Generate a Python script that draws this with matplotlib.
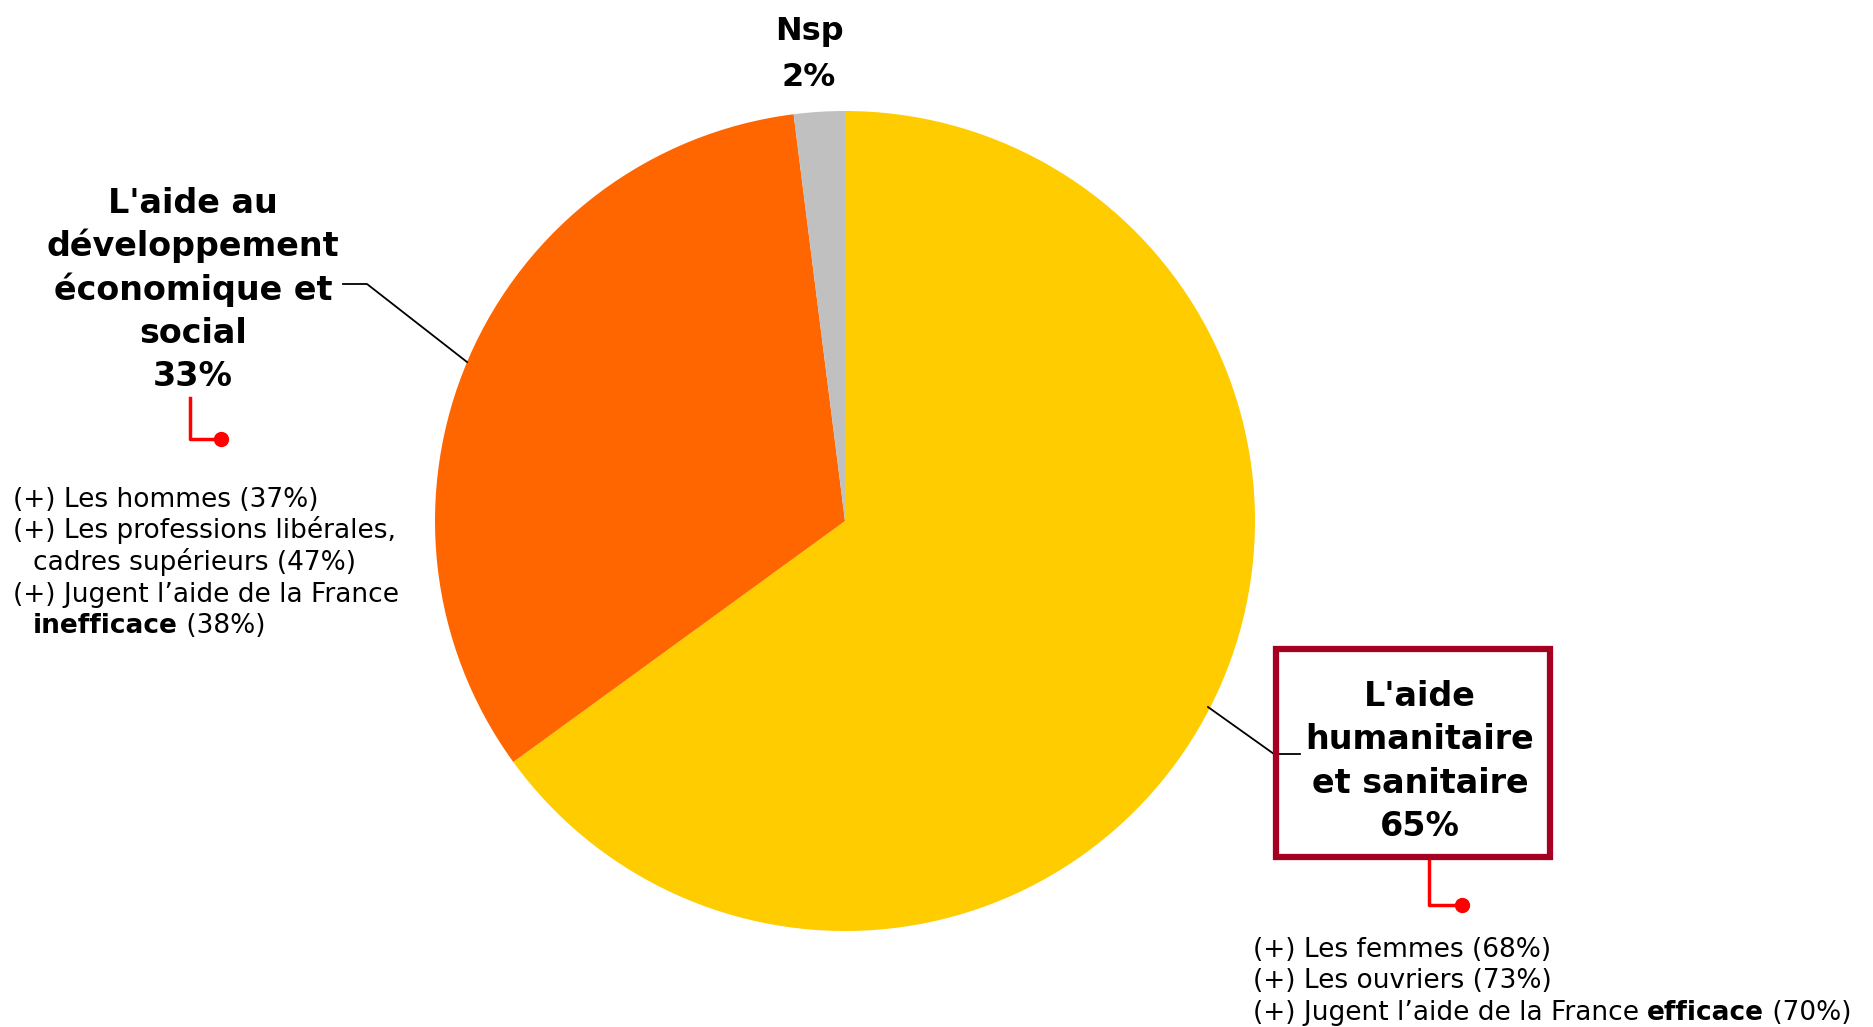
import numpy as np
import matplotlib.pyplot as plt
from matplotlib.patches import Rectangle

# Data
categories = ["L'aide humanitaire et sanitaire",
              "L'aide au développement économique et social",
              "Nsp"]
values = [65, 33, 2]
colors = ['#FFCC00', '#FF6600', '#C0C0C0']

# label lines for each slice (text broken as in the original)
label_lines = [
    ["L'aide", "humanitaire", "et sanitaire"],
    ["L'aide au", "développement", "économique et", "social"],
    ["Nsp"],
]

# notes under the labels: each line is a list of (text, bold) pieces
notes_humanitaire = [
    [("(+) Les femmes (68%)", False)],
    [("(+) Les ouvriers (73%)", False)],
    [("(+) Jugent l’aide de la France ", False), ("efficace", True), (" (70%)", False)],
]
notes_developpement = [
    [("(+) Les hommes (37%)", False)],
    [("(+) Les professions libérales,", False)],
    [("cadres supérieurs (47%)", False)],
    [("(+) Jugent l’aide de la France", False)],
    [("inefficace", True), (" (38%)", False)],
]
indented = [False, False, True, False, True]

W, H = 1874, 1027
fig = plt.figure(figsize=(W / 100, H / 100), dpi=100)
ax = fig.add_axes([0, 0, 1, 1])

# pie (y axis runs downward, so counterclock=True draws clockwise on screen)
cx, cy, r = 845, 521, 410
ax.pie(values, colors=colors, startangle=-90, counterclock=True,
       center=(cx, cy), radius=r, wedgeprops=dict(linewidth=0))
ax.set_xlim(0, W)
ax.set_ylim(H, 0)
ax.set_aspect('equal')
ax.axis('off')


def big_label(x, y0, lines, step=43.3, size=24):
    for i, s in enumerate(lines):
        ax.text(x, y0 + i * step, s, ha='center', va='baseline',
                fontsize=size, fontweight='bold', color='black')


def note_line(x, y, pieces, size=19):
    prev = None
    for s, bold in pieces:
        w = 'bold' if bold else 'normal'
        if prev is None:
            prev = ax.text(x, y, s, ha='left', va='baseline', fontsize=size,
                           fontweight=w, color='black')
        else:
            prev = ax.annotate(s, xy=(1, 0), xycoords=prev, ha='left', va='bottom',
                               fontsize=size, fontweight=w, color='black')


# Nsp label
big_label(809, 40, label_lines[2] + ["%d%%" % values[2]], step=46, size=23)

# developpement label
big_label(193, 213, label_lines[1] + ["%d%%" % values[1]])
ax.plot([343, 367, 467], [284, 284, 362], color='black', lw=1.3)
ax.plot([190, 190, 221], [398, 439, 439], color='red', lw=2.5)
ax.plot([221], [439], 'o', color='red', ms=10)
for i, pieces in enumerate(notes_developpement):
    note_line(13 + (20 if indented[i] else 0), 507 + i * 31.5, pieces)

# humanitaire label in framed box
ax.add_patch(Rectangle((1276, 649), 274, 208, fill=False,
                       edgecolor='#A50021', lw=4.5, zorder=3))
big_label(1420, 706, label_lines[0] + ["%d%%" % values[0]])
ax.plot([1208, 1274, 1300], [707, 754, 754], color='black', lw=1.3)
ax.plot([1429, 1429, 1462], [858, 905, 905], color='red', lw=2.5)
ax.plot([1462], [905], 'o', color='red', ms=10)
for i, pieces in enumerate(notes_humanitaire):
    note_line(1253, 957 + i * 31.5, pieces)

plt.savefig('out.png', dpi=100, facecolor='white')
